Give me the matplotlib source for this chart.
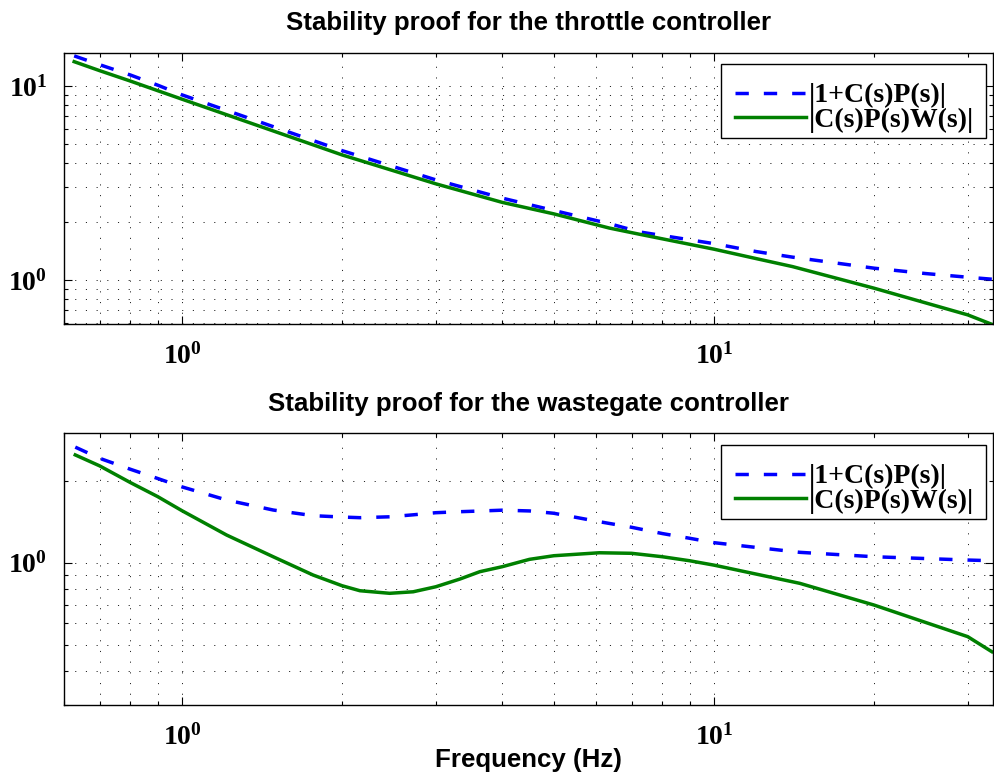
import matplotlib
matplotlib.use('Agg')
import matplotlib.pyplot as plt
from matplotlib.patches import Rectangle
from matplotlib.ticker import FixedLocator, FixedFormatter, NullFormatter

# frequencies (Hz)
freq_thr = [0.627, 0.7, 0.8, 0.9, 1.0, 2.0, 3.0, 4.0, 5.0, 6.36, 7.24, 10.0, 12.0, 14.05, 20.0, 25.0, 30.0, 33.3]
# throttle: |1+C(s)P(s)| and |C(s)P(s)W(s)|
thr_sens = [14.3, 12.88, 11.39, 10.1, 9.0, 4.64, 3.28, 2.64, 2.28, 1.95, 1.768, 1.538, 1.40, 1.31, 1.149, 1.078, 1.032, 1.008]
thr_comp = [13.35, 12.0, 10.6, 9.46, 8.55, 4.41, 3.13, 2.51, 2.19, 1.85, 1.72, 1.44, 1.288, 1.171, 0.906, 0.761, 0.66, 0.59]

freq_wg = [0.63, 0.7, 0.8, 0.9, 1.0, 1.213, 1.484, 1.764, 2.0, 2.16, 2.457, 2.72, 3.0, 3.33, 3.63, 4.0, 4.5, 5.0, 6.09,
           7.0, 8.0, 9.0, 10.0, 14.5, 20.0, 30.0, 33.3]
# wastegate: |1+C(s)P(s)| and |C(s)P(s)W(s)|
wg_sens = [2.66, 2.42, 2.205, 2.04, 1.90, 1.70, 1.562, 1.489, 1.472, 1.464, 1.475, 1.50, 1.527, 1.54, 1.549, 1.56, 1.55, 1.52, 1.415,
           1.35, 1.28, 1.23, 1.185, 1.092, 1.052, 1.023, 1.017]
wg_comp = [2.49, 2.27, 1.97, 1.75, 1.553, 1.264, 1.052, 0.901, 0.823, 0.789, 0.772, 0.782, 0.816, 0.871, 0.927, 0.967, 1.029, 1.061, 1.088,
           1.083, 1.052, 1.017, 0.98, 0.84, 0.699, 0.535, 0.471]

titles = ['Stability proof for the throttle controller', 'Stability proof for the wastegate controller']
labels = ['|1+C(s)P(s)|', '|C(s)P(s)W(s)|']

plt.rcParams['font.family'] = 'Liberation Serif'
plt.rcParams['font.weight'] = 'bold'
plt.rcParams['mathtext.default'] = 'regular'
plt.rcParams['lines.scale_dashes'] = False

W, H = 994, 778
fig = plt.figure(figsize=(W / 100, H / 100), dpi=100)

def box(l, t, r, b):
    return [l / W, 1 - b / H, (r - l) / W, (b - t) / H]

ax1 = fig.add_axes(box(64, 52.7, 992.5, 324.3))
ax2 = fig.add_axes(box(64, 433.3, 992.5, 705))

sets = [(ax1, freq_thr, thr_sens, thr_comp, (0.59, 14.85), [1, 10], ['$\\mathdefault{10^{0}}$', '$\\mathdefault{10^{1}}$']),
        (ax2, freq_wg, wg_sens, wg_comp, (0.30, 2.99), [1], ['$\\mathdefault{10^{0}}$'])]

for i, (ax, f, s, c, ylim, yt, ytl) in enumerate(sets):
    ax.loglog(f, s, color='#0000ff', lw=2.5, dashes=(9.6, 10.8), label=labels[0])
    ax.loglog(f, c, color='#008000', lw=2.5, label=labels[1])
    ax.set_xlim(0.6, 33.4)
    ax.set_ylim(*ylim)

    ax.xaxis.set_major_locator(FixedLocator([1, 10]))
    ax.xaxis.set_major_formatter(FixedFormatter(['$\\mathdefault{10^{0}}$', '$\\mathdefault{10^{1}}$']))
    ax.xaxis.set_minor_locator(FixedLocator([0.6, 0.7, 0.8, 0.9, 2, 3, 4, 5, 6, 7, 8, 9, 20, 30]))
    ax.xaxis.set_minor_formatter(NullFormatter())
    ax.yaxis.set_major_locator(FixedLocator(yt))
    ax.yaxis.set_major_formatter(FixedFormatter(ytl))
    ax.yaxis.set_minor_locator(FixedLocator([0.3, 0.4, 0.5, 0.6, 0.7, 0.8, 0.9, 2, 3, 4, 5, 6, 7, 8, 9]))
    ax.yaxis.set_minor_formatter(NullFormatter())

    ax.tick_params(which='both', direction='in', top=True, right=True, labelsize=20, width=0.8)
    ax.tick_params(which='major', length=6)
    ax.tick_params(which='minor', length=3)
    ax.tick_params(axis='x', pad=13.6)
    ax.tick_params(axis='y', pad=12)
    ax.grid(True, which='both', color='k', linestyle=(0, (0.8, 6.9)), linewidth=0.6)
    for sp in ax.spines.values():
        sp.set_linewidth(1.0)

    ax.set_title(titles[i], fontsize=18.6, fontweight='bold', family='Liberation Sans', pad=16)

    # MATLAB-like legend: own frame box, entries placed inside it
    top = 64 if i == 0 else 445
    ax.add_patch(Rectangle((721 / W, 1 - (top + 74) / H), 265 / W, 74 / H, transform=fig.transFigure,
                           facecolor='white', edgecolor='k', lw=1.0, zorder=4.9, clip_on=False))
    ax.legend(loc='upper left', fontsize=20, frameon=False,
              bbox_to_anchor=(735 / W, 1 - (top + 19) / H), bbox_transform=fig.transFigure,
              borderaxespad=0, borderpad=0, handlelength=2.55, handletextpad=0.12, labelspacing=-0.03)

ax2.set_xlabel('Frequency (Hz)', fontsize=18.6, fontweight='bold', family='Liberation Sans', labelpad=-2)

fig.savefig('out.png', dpi=100)
